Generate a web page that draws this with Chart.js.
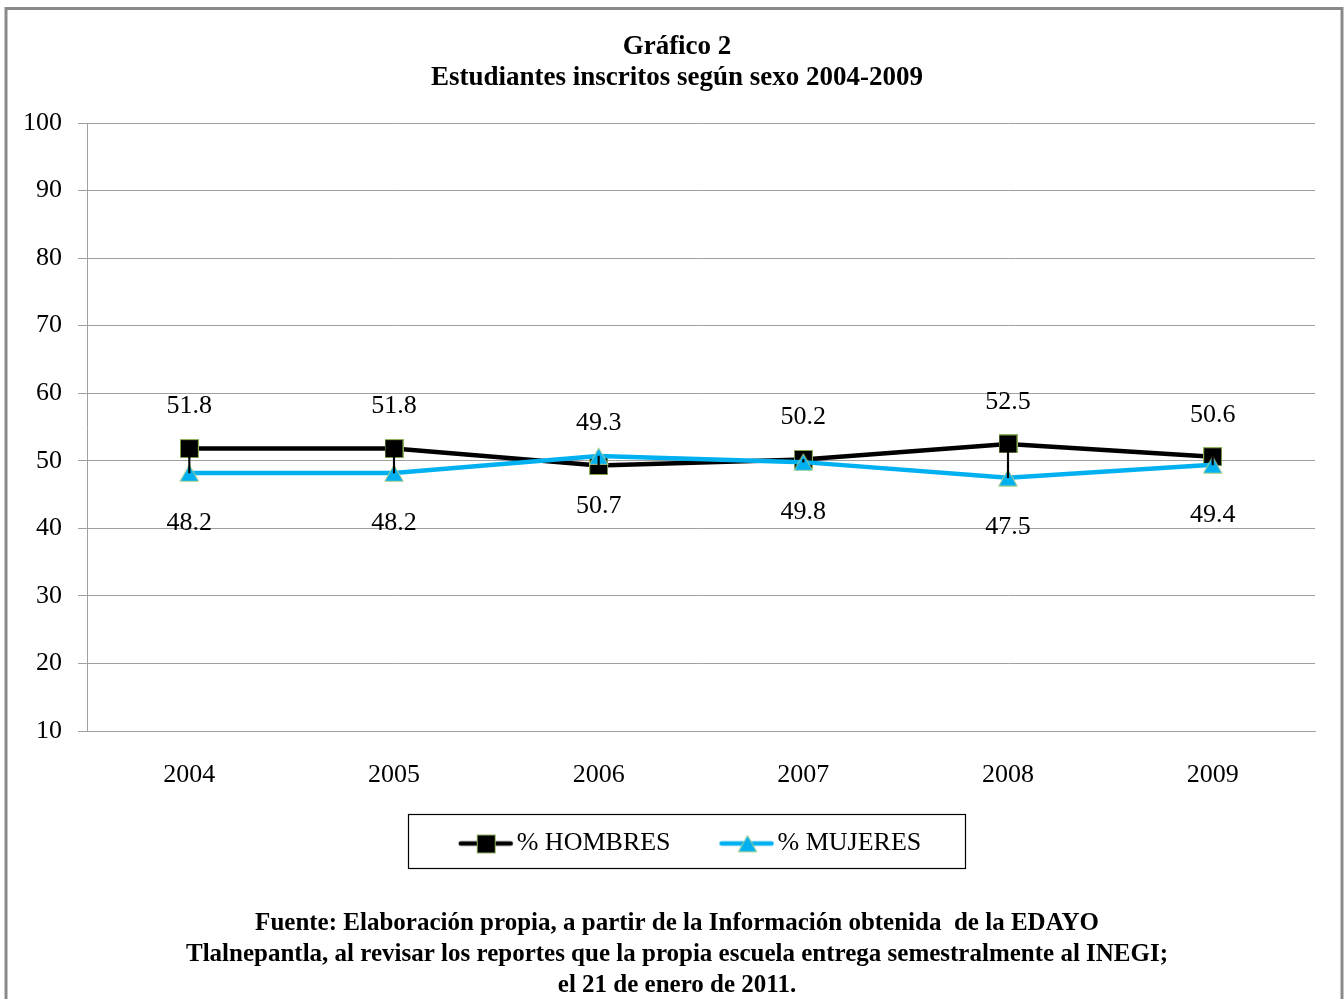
<!DOCTYPE html>
<html>
<head>
<meta charset="utf-8">
<script src="https://cdn.jsdelivr.net/npm/chart.js@4.4.1/dist/chart.umd.min.js"></script>
<style>
html,body{margin:0;padding:0;background:#fff;}
#wrap{position:relative;width:1344px;height:999px;}
</style>
</head>
<body>
<div id="wrap"><canvas id="c"></canvas></div>
<script>
// ---- data ----
const years = ['2004', '2005', '2006', '2007', '2008', '2009'];
const hombres = [51.8, 51.8, 49.3, 50.2, 52.5, 50.6];
const mujeres = [48.2, 48.2, 50.7, 49.8, 47.5, 49.4];
const seriesNames = ['% HOMBRES', '% MUJERES'];
const yMin = 10, yMax = 100, yStep = 10;
const titleLines = ['Gráfico 2', 'Estudiantes inscritos según sexo 2004-2009'];
const sourceLines = [
  'Fuente: Elaboración propia, a partir de la Información obtenida  de la EDAYO',
  'Tlalnepantla, al revisar los reportes que la propia escuela entrega semestralmente al INEGI;',
  'el 21 de enero de 2011.'
];

// ---- styles ----
const BLACK = '#000000';
const BLUE = '#00B0F0';
const SQ_EDGE = '#8fb15a';
const TRI_EDGE = '#b9d48c';
const GRID = '#a0a0a0';
const FONT = 'Liberation Serif';

function squareImg() {
  const c = document.createElement('canvas');
  c.width = 19; c.height = 19;
  const g = c.getContext('2d');
  g.fillStyle = BLACK; g.fillRect(0, 0, 19, 19);
  g.strokeStyle = SQ_EDGE; g.lineWidth = 1; g.strokeRect(0.5, 0.5, 18, 18);
  return c;
}
function triangleImg() {
  const c = document.createElement('canvas');
  c.width = 20; c.height = 18;
  const g = c.getContext('2d');
  g.beginPath(); g.moveTo(10, 0.8); g.lineTo(19.3, 17.3); g.lineTo(0.7, 17.3); g.closePath();
  g.fillStyle = BLUE; g.fill();
  g.strokeStyle = TRI_EDGE; g.lineWidth = 1; g.stroke();
  return c;
}
// legend sample: invisible lead on the left, visible line + marker on the right
function legendImg(color, marker) {
  const c = document.createElement('canvas');
  c.width = 91; c.height = 22;
  const g = c.getContext('2d');
  g.strokeStyle = color; g.lineWidth = 4.5; g.lineCap = 'round';
  g.beginPath(); g.moveTo(38, 11); g.lineTo(88, 11); g.stroke();
  g.drawImage(marker, Math.round(63.5 - marker.width / 2), Math.round(11 - marker.height / 2));
  return c;
}
const sq = squareImg(), tri = triangleImg();
const legendImgs = [legendImg(BLACK, sq), legendImg(BLUE, tri)];

const framePlugin = {
  id: 'frame',
  beforeDraw(chart) {
    const ctx = chart.ctx;
    ctx.save();
    ctx.fillStyle = '#fff';
    ctx.fillRect(0, 0, chart.width, chart.height);
    ctx.strokeStyle = '#8a8a8a';
    ctx.lineWidth = 3;
    ctx.strokeRect(6, 8.5, chart.width - 8, chart.height + 20);
    ctx.restore();
  }
};

const valueLabels = {
  id: 'valueLabels',
  afterDatasetsDraw(chart) {
    const ctx = chart.ctx;
    ctx.save();
    ctx.font = '26px "' + FONT + '"';
    ctx.fillStyle = BLACK;
    ctx.textAlign = 'center';
    ctx.textBaseline = 'middle';
    [[0, -42], [1, 50]].forEach(([di, off]) => {
      const meta = chart.getDatasetMeta(di);
      const vals = chart.data.datasets[di].data;
      meta.data.forEach((pt, i) => ctx.fillText(vals[i].toFixed(1), pt.x, pt.y + off));
    });
    ctx.restore();
  }
};

const legendBox = {
  id: 'legendBox',
  afterDraw(chart) {
    const hb = chart.legend && chart.legend.legendHitBoxes;
    if (!hb || !hb.length) return;
    const first = hb[0], last = hb[hb.length - 1];
    const cy = first.top + first.height / 2;
    const left = first.left + 26 - 51;
    const right = last.left + last.width + 43;
    const ctx = chart.ctx;
    ctx.save();
    ctx.strokeStyle = '#000';
    ctx.lineWidth = 1.2;
    ctx.strokeRect(Math.round(left) + 0.5, Math.round(cy - 29.5) + 0.5, Math.round(right - left), 54);
    ctx.restore();
  }
};

Chart.defaults.font.family = FONT;
Chart.defaults.color = BLACK;

new Chart(document.getElementById('c'), {
  type: 'line',
  data: {
    labels: years,
    datasets: [
      {
        type: 'line', label: seriesNames[0], data: hombres,
        borderColor: BLACK, backgroundColor: BLACK, borderWidth: 4.5,
        pointStyle: sq, pointRadius: 10, pointHoverRadius: 10,
        tension: 0, fill: false, order: 2
      },
      {
        type: 'line', label: seriesNames[1], data: mujeres,
        borderColor: BLUE, backgroundColor: BLUE, borderWidth: 4.5,
        pointStyle: tri, pointRadius: 10, pointHoverRadius: 10,
        tension: 0, fill: false, order: 1
      },
      {
        type: 'bar', label: 'hilo',
        data: years.map((_, i) => [Math.min(hombres[i], mujeres[i]), Math.max(hombres[i], mujeres[i])]),
        backgroundColor: BLACK, barThickness: 1.5, order: 0
      }
    ]
  },
  options: {
    responsive: true,
    maintainAspectRatio: false,
    animation: false,
    events: [],
    layout: { padding: { left: 10, right: 0, top: 0, bottom: 0 } },
    scales: {
      x: {
        offset: true,
        grid: { display: false, drawTicks: false },
        border: { display: true, color: GRID, width: 1 },
        ticks: { color: BLACK, font: { family: FONT, size: 26 }, padding: 28.4, maxRotation: 0 },
        afterFit(s) { s.height = 76.5; }
      },
      y: {
        min: yMin, max: yMax,
        ticks: { stepSize: yStep, color: BLACK, font: { family: FONT, size: 26 }, padding: 16 },
        grid: { color: GRID, lineWidth: 1, tickLength: 9, drawTicks: true },
        border: { display: true, color: GRID, width: 1 },
        afterFit(s) { s.width = 77; }
      },
      yRight: {
        type: 'linear', position: 'right', display: true,
        grid: { display: false, drawTicks: false },
        border: { display: false },
        ticks: { display: false },
        afterFit(s) { s.width = 29; }
      }
    },
    plugins: {
      tooltip: { enabled: false },
      title: {
        display: true, text: titleLines, color: BLACK,
        font: { family: FONT, size: 27, weight: 'bold', lineHeight: '31px' },
        padding: { top: 31.5, bottom: 29.5 }
      },
      subtitle: {
        display: true, position: 'bottom', text: sourceLines, color: BLACK,
        font: { family: FONT, size: 25, weight: 'bold', lineHeight: '31px' },
        padding: { top: 41.5, bottom: -2 }
      },
      legend: {
        display: true, position: 'bottom',
        labels: {
          color: BLACK,
          font: { family: FONT, size: 26 },
          usePointStyle: true,
          pointStyleWidth: 71,
          padding: 23,
          filter: (item) => item.datasetIndex < 2,
          sort: (a, b) => a.datasetIndex - b.datasetIndex,
          generateLabels(chart) {
            const items = Chart.defaults.plugins.legend.labels.generateLabels(chart);
            items.forEach(it => { if (it.datasetIndex < 2) it.pointStyle = legendImgs[it.datasetIndex]; });
            return items;
          }
        }
      }
    }
  },
  plugins: [framePlugin, valueLabels, legendBox]
});
</script>
</body>
</html>
